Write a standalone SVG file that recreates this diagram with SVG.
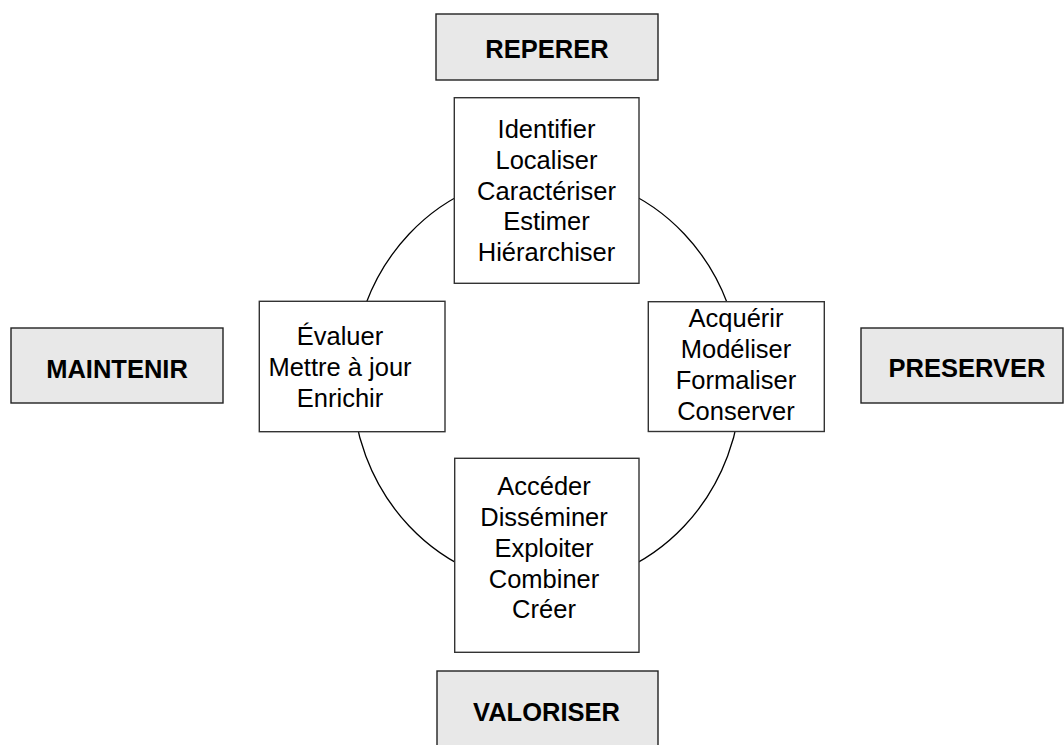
<svg xmlns="http://www.w3.org/2000/svg" width="1064" height="745" viewBox="0 0 1064 745">
  <style>
    .stage { fill: #e8e8e8; stroke: #222; stroke-width: 1.4; }
    .step { fill: #ffffff; stroke: #333; stroke-width: 1.4; }
    .title { font-family: "Liberation Sans", Arial, sans-serif; font-size: 25.5px; font-weight: bold; fill: #000; text-anchor: middle; }
    .verb { font-family: "Liberation Sans", Arial, sans-serif; font-size: 25.5px; fill: #000; text-anchor: middle; }
    .cycle { fill: none; stroke: #000; stroke-width: 1.3; }
  </style>
  <rect width="1064" height="745" fill="#ffffff"/>

  <!-- cycle linking the four activity boxes -->
  <g id="connectors">
    <ellipse class="cycle" cx="546.7" cy="380" rx="194.6" ry="206.5"/>
  </g>

  <!-- stage labels -->
  <g id="reperer">
    <rect class="stage" x="436" y="14" width="222" height="66"/>
    <text class="title" x="547" y="57.5">REPERER</text>
  </g>
  <g id="maintenir">
    <rect class="stage" x="11" y="328" width="212" height="75"/>
    <text class="title" x="117" y="377.7">MAINTENIR</text>
  </g>
  <g id="preserver">
    <rect class="stage" x="861" y="328" width="202" height="75"/>
    <text class="title" x="967" y="377.3">PRESERVER</text>
  </g>
  <g id="valoriser">
    <rect class="stage" x="437" y="671" width="221" height="90"/>
    <text class="title" x="546.5" y="720.7">VALORISER</text>
  </g>

  <!-- activity boxes -->
  <g id="reperer-steps">
    <rect class="step" x="454.3" y="97.7" width="184.7" height="185.6"/>
    <text class="verb" x="546.5" y="138.3">Identifier</text>
    <text class="verb" x="546.5" y="169">Localiser</text>
    <text class="verb" x="546.5" y="199.7">Caractériser</text>
    <text class="verb" x="546.5" y="230.4">Estimer</text>
    <text class="verb" x="546.5" y="261">Hiérarchiser</text>
  </g>
  <g id="maintenir-steps">
    <rect class="step" x="259.3" y="301.3" width="185.7" height="130.4"/>
    <text class="verb" x="340" y="345">Évaluer</text>
    <text class="verb" x="340" y="376">Mettre à jour</text>
    <text class="verb" x="340" y="406.7">Enrichir</text>
  </g>
  <g id="preserver-steps">
    <rect class="step" x="648.3" y="301.7" width="176" height="129.8"/>
    <text class="verb" x="736" y="327.3">Acquérir</text>
    <text class="verb" x="736" y="358.3">Modéliser</text>
    <text class="verb" x="736" y="389">Formaliser</text>
    <text class="verb" x="736" y="420">Conserver</text>
  </g>
  <g id="valoriser-steps">
    <rect class="step" x="454.7" y="458.3" width="184.3" height="194"/>
    <text class="verb" x="544" y="495">Accéder</text>
    <text class="verb" x="544" y="526">Disséminer</text>
    <text class="verb" x="544" y="556.7">Exploiter</text>
    <text class="verb" x="544" y="587.7">Combiner</text>
    <text class="verb" x="544" y="618.3">Créer</text>
  </g>
</svg>
